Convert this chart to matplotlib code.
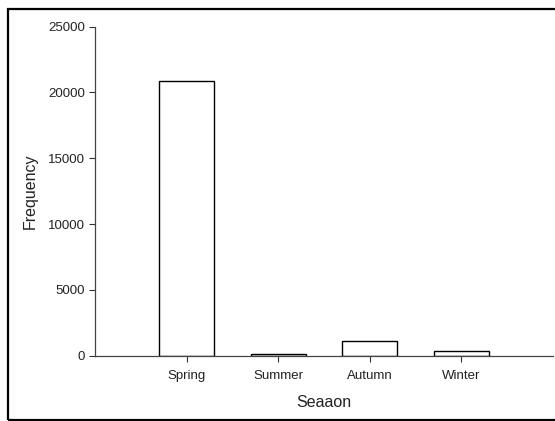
import matplotlib.pyplot as plt
import matplotlib.patches as mpatches

seasons = ["Spring", "Summer", "Autumn", "Winter"]
frequency = [20900, 160, 1150, 330]
y_ticks = [0, 5000, 10000, 15000, 20000, 25000]

plt.rcParams['font.family'] = ['Liberation Sans', 'DejaVu Sans']

W, H = 555, 421
fig = plt.figure(figsize=(W / 100, H / 100), dpi=100)
ax = fig.add_axes([95 / W, 1 - 355.7 / H, (553 - 95) / W, (355.7 - 26.7) / H])

pos = range(1, len(seasons) + 1)
ax.bar(pos, frequency, width=0.6, color="white", edgecolor="black", linewidth=1.0)

ax.set_xlim(0, 5)
ax.set_ylim(0, 25000)
ax.set_xticks(list(pos))
ax.set_xticklabels(seasons)
ax.set_yticks(y_ticks)
ax.tick_params(axis='both', direction='out', length=4, width=0.8, colors='#333333',
               labelsize=9.5, labelcolor='#222222')
ax.tick_params(axis='x', pad=6)
ax.tick_params(axis='y', pad=3)

for side in ('top', 'right'):
    ax.spines[side].set_visible(False)
for side in ('left', 'bottom'):
    ax.spines[side].set_color('#444444')
    ax.spines[side].set_linewidth(0.9)

ax.set_xlabel("Seaaon", fontsize=11.5, color='#222222', labelpad=10)
ax.set_ylabel("Frequency", fontsize=11.5, color='#222222', labelpad=7.5)

# outer border around the whole figure
border = mpatches.Rectangle((8 / W, 1 - 420 / H), (W + 5 - 8) / W, (420 - 9) / H,
                            transform=fig.transFigure, fill=False,
                            edgecolor='black', linewidth=1.6, clip_on=False)
fig.patches.append(border)

fig.savefig("out.png", dpi=100)
